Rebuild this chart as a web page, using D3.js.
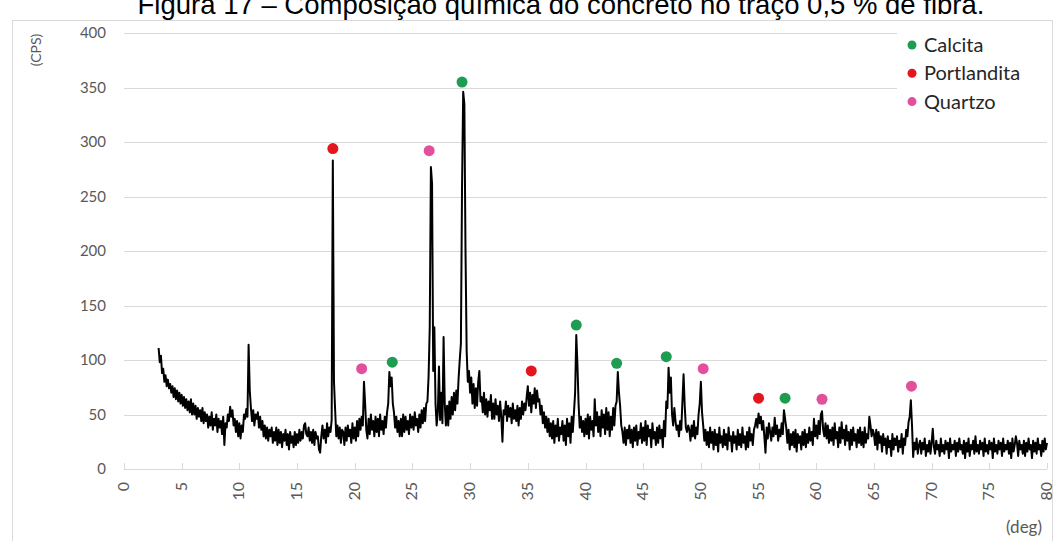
<!DOCTYPE html>
<html lang="pt">
<head>
<meta charset="utf-8">
<script src="https://cdn.jsdelivr.net/npm/d3@7"></script>
<style>
  body { margin: 0; background: #fff; }
  svg { display: block; }
</style>
</head>
<body>
<svg id="chart" width="1055" height="541"></svg>
<script>
// XRD pattern, 2theta from 3 to 80 deg, one reading every 0.1 deg (one row = one degree)
const twoThetaStart = 3;
const twoThetaStep = 0.1;
const cps = [
  111,98,104,88,92,80,86,76,82,74,   // 3
  78,70,76,66,74,64,72,62,70,60,
  68,58,66,56,64,54,62,52,64,50,
  60,50,58,46,56,48,54,44,56,42,
  52,44,50,38,48,40,52,36,46,40,
  50,34,46,38,44,32,48,22,42,38,     // 8
  50,44,57,48,54,40,46,34,44,30,
  42,28,40,34,50,46,55,48,114,72,
  56,44,54,40,50,46,52,38,48,36,
  44,30,40,28,38,26,36,30,38,24,
  34,26,38,22,36,24,34,20,32,26,     // 13
  36,22,32,18,34,24,30,20,34,22,
  32,24,36,26,34,28,40,42,32,30,
  38,26,34,24,36,22,34,28,30,18,
  15,30,40,28,36,24,42,30,38,34,
  45,283,80,54,30,40,28,38,24,36,    // 18
  34,22,38,26,40,30,36,24,42,28,
  38,26,44,30,46,36,48,40,80,60,
  36,28,46,32,50,36,44,30,48,34,
  46,30,50,36,44,32,48,38,52,60,
  89,76,84,60,52,38,48,34,44,30,     // 23
  46,30,50,34,48,36,44,32,50,38,
  48,36,52,40,46,34,50,38,54,42,
  56,44,60,62,85,130,277,262,90,130,
  60,40,52,94,45,70,42,121,60,40,
  58,40,62,46,66,50,70,54,72,60,     // 28
  83,100,115,260,346,335,200,108,80,90,
  70,84,60,78,56,74,58,80,90,62,
  66,52,70,50,64,48,62,54,68,46,
  60,46,64,50,58,44,62,48,25,54,
  50,62,44,58,48,56,42,60,46,54,     // 33
  44,58,40,56,46,62,50,60,54,66,
  76,58,70,52,68,60,74,56,72,62,
  64,50,58,42,52,38,48,34,46,30,
  42,28,44,24,40,30,46,26,38,32,
  44,26,40,22,46,30,42,24,48,34,     // 38
  52,70,123,96,60,38,48,34,44,30,
  46,32,50,28,48,36,44,30,64,40,
  52,34,48,30,54,38,50,32,56,36,
  52,30,48,36,56,40,58,62,89,70,
  58,40,34,24,38,22,36,28,40,24,     // 43
  36,20,38,26,40,22,34,28,42,24,
  38,26,44,22,40,30,36,20,42,28,
  34,22,38,24,40,28,36,20,44,30,
  62,56,93,70,84,50,40,56,44,36,
  40,30,44,36,62,87,58,38,34,40,     // 48
  36,26,40,30,44,28,38,32,50,60,
  80,52,40,26,36,22,34,20,38,24,
  34,18,36,22,32,16,38,24,30,20,
  36,22,32,18,38,26,30,16,34,24,
  30,18,36,22,32,20,38,24,30,18,     // 53
  34,20,38,26,32,22,36,40,46,38,
  51,42,48,36,44,30,15,38,28,42,
  34,26,38,30,47,32,40,26,36,30,
  42,32,54,46,38,24,36,18,32,22,
  34,20,36,16,32,24,30,18,34,22,     // 58
  36,20,32,24,38,26,34,22,46,30,
  40,28,44,32,50,53,36,30,42,28,
  40,24,36,26,38,22,42,28,34,20,
  38,24,43,28,36,22,40,26,34,18,
  36,22,38,26,32,20,36,24,38,22,     // 63
  34,20,38,24,32,28,48,40,30,36,
  32,22,36,18,34,24,30,16,32,22,
  28,14,30,20,26,12,32,18,28,22,
  30,16,26,20,32,14,28,22,36,30,
  43,48,63,40,11,24,18,28,14,22,     // 68
  26,14,24,18,28,12,22,16,26,14,
  24,37,20,14,26,18,22,12,28,16,
  22,14,26,18,24,10,28,16,22,18,
  26,12,24,16,28,18,22,14,26,10,
  24,16,28,12,22,18,26,14,30,16,     // 73
  22,14,26,18,24,12,28,16,22,14,
  26,18,24,10,28,16,22,14,26,18,
  24,12,28,16,22,18,26,14,24,10,
  28,16,22,30,24,12,26,18,22,14,
  26,12,24,16,28,18,22,10,26,16,     // 78
  24,14,28,18,22,12,26,16,28,18,
  24                                 // 80
];

// phase markers: [2theta, cps]
const calcita = [[23.25, 98], [29.3, 355], [39.2, 132], [42.7, 97], [47.0, 103], [57.3, 65]];
const portlandita = [[18.1, 294], [35.3, 90], [55.0, 65]];
const quartzo = [[20.6, 92], [26.45, 292], [50.2, 92], [60.5, 64], [68.25, 76]];

const phaseNames = ["Calcita", "Portlandita", "Quartzo"];
const phaseColors = ["#1e9c52", "#e3161e", "#e2509c"];

const xTicks = d3.range(0, 81, 5);
const yTicks = d3.range(0, 401, 50);

const svg = d3.select("#chart");
const gray = "#d9d9d9";
const font = "Lato, 'Open Sans', sans-serif";

const x = d3.scaleLinear().domain([0, 80]).range([124, 1047]);
const y = d3.scaleLinear().domain([0, 400]).range([469, 33]);

// title (its top is cut off in the source page)
svg.append("text")
  .attr("x", 561).attr("y", 14)
  .attr("text-anchor", "middle")
  .attr("font-family", "'Liberation Sans', Arial, sans-serif")
  .attr("font-size", 27.5)
  .attr("fill", "#000")
  .text("Figura 17 – Composição química do concreto no traço 0,5 % de fibra.");

// chart frame
svg.append("rect")
  .attr("x", 12.5).attr("y", 20.5)
  .attr("width", 1040).attr("height", 540)
  .attr("fill", "#fff")
  .attr("stroke", gray);

// grid
svg.append("g").selectAll("line")
  .data(yTicks)
  .join("line")
  .attr("x1", x(0)).attr("x2", x(80))
  .attr("y1", d => Math.round(y(d)) + 0.5)
  .attr("y2", d => Math.round(y(d)) + 0.5)
  .attr("stroke", gray);

// y labels
svg.append("g").selectAll("text")
  .data(yTicks)
  .join("text")
  .attr("x", 106)
  .attr("y", d => y(d) + 5)
  .attr("text-anchor", "end")
  .attr("font-family", font)
  .attr("font-size", 15)
  .attr("fill", "#595959")
  .text(d => d);

// x ticks + labels
const xAxis = svg.append("g");
xAxis.selectAll("line")
  .data(xTicks)
  .join("line")
  .attr("x1", d => Math.round(x(d)) + 0.5)
  .attr("x2", d => Math.round(x(d)) + 0.5)
  .attr("y1", y(0)).attr("y2", y(0) - 6)
  .attr("stroke", gray);
xAxis.selectAll("text")
  .data(xTicks)
  .join("text")
  .attr("transform", d => `translate(${x(d) + 5},482) rotate(-90)`)
  .attr("text-anchor", "end")
  .attr("font-family", font)
  .attr("font-size", 16)
  .attr("fill", "#595959")
  .text(d => d);

// axis titles
svg.append("text")
  .attr("transform", "translate(41,50) rotate(-90)")
  .attr("text-anchor", "middle")
  .attr("font-family", font)
  .attr("font-size", 14)
  .attr("fill", "#595959")
  .text("(CPS)");
svg.append("text")
  .attr("x", 1042).attr("y", 533)
  .attr("text-anchor", "end")
  .attr("font-family", font)
  .attr("font-size", 17)
  .attr("fill", "#595959")
  .text("(deg)");

// pattern
const line = d3.line()
  .x((d, i) => x(twoThetaStart + i * twoThetaStep))
  .y(d => y(d));
svg.append("path")
  .datum(cps)
  .attr("d", line)
  .attr("fill", "none")
  .attr("stroke", "#000")
  .attr("stroke-width", 2)
  .attr("stroke-linejoin", "round");

// phase markers
[calcita, portlandita, quartzo].forEach((pts, k) => {
  svg.append("g").selectAll("circle")
    .data(pts)
    .join("circle")
    .attr("cx", d => x(d[0]))
    .attr("cy", d => y(d[1]))
    .attr("r", 5.5)
    .attr("fill", phaseColors[k]);
});

// legend (covers the grid behind it)
const legend = svg.append("g");
legend.append("rect")
  .attr("x", 897).attr("y", 28)
  .attr("width", 152).attr("height", 86)
  .attr("fill", "#fff");
const items = legend.selectAll("g")
  .data(phaseNames)
  .join("g")
  .attr("transform", (d, i) => `translate(912,${45 + i * 28.3})`);
items.append("circle")
  .attr("r", 4.5)
  .attr("fill", (d, i) => phaseColors[i]);
items.append("text")
  .attr("x", 12).attr("y", 7)
  .attr("font-family", font)
  .attr("font-size", 20)
  .attr("fill", "#262626")
  .text(d => d);
</script>
</body>
</html>
